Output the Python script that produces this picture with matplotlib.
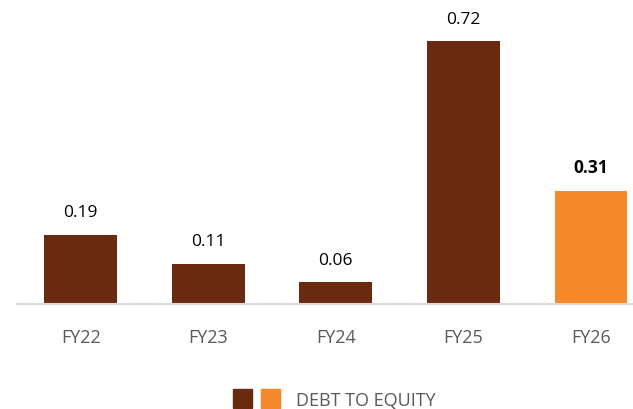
import matplotlib.pyplot as plt
from matplotlib.patches import Patch
from matplotlib.legend_handler import HandlerTuple

years = ["FY22", "FY23", "FY24", "FY25", "FY26"]
debt_to_equity = [0.19, 0.11, 0.06, 0.72, 0.31]
highlight = [False, False, False, False, True]

brown = "#692A10"
orange = "#F5882A"

plt.rcParams['font.family'] = ['Open Sans', 'DejaVu Sans']

fig = plt.figure(figsize=(6.33, 4.10), dpi=100)
# axes spans past the right edge, as in the reference crop
ax = fig.add_axes([17 / 633, 105 / 410, 616 / 633, 305 / 410])

colors = [orange if h else brown for h in highlight]
x = range(len(years))
ax.bar(x, debt_to_equity, width=0.57, color=colors)

for i, v in enumerate(debt_to_equity):
    ax.text(i, v + 0.04, f"{v:.2f}", ha='center', va='bottom', fontsize=12.5,
            color='black', fontweight='bold' if highlight[i] else 'normal')

ax.set_xlim(-0.5, 4.33)
ax.set_ylim(0, 0.836)
ax.set_xticks(list(x))
ax.set_xticklabels(years, fontsize=13, color='#595959')
ax.tick_params(axis='x', length=0, pad=17)
ax.set_yticks([])
for side in ['top', 'right', 'left']:
    ax.spines[side].set_visible(False)
ax.spines['bottom'].set_color('#D9D9D9')
ax.spines['bottom'].set_linewidth(1.5)

handle = (Patch(color=brown), Patch(color=orange))
fig.legend([handle], ["DEBT TO EQUITY"], loc='center', bbox_to_anchor=(334 / 633, 10 / 410),
           handler_map={tuple: HandlerTuple(ndivide=None, pad=0.5)},
           frameon=False, fontsize=13, labelcolor='#595959',
           handlelength=2.6, handleheight=1.2, handletextpad=0.9)

fig.savefig("out.png", dpi=100)
